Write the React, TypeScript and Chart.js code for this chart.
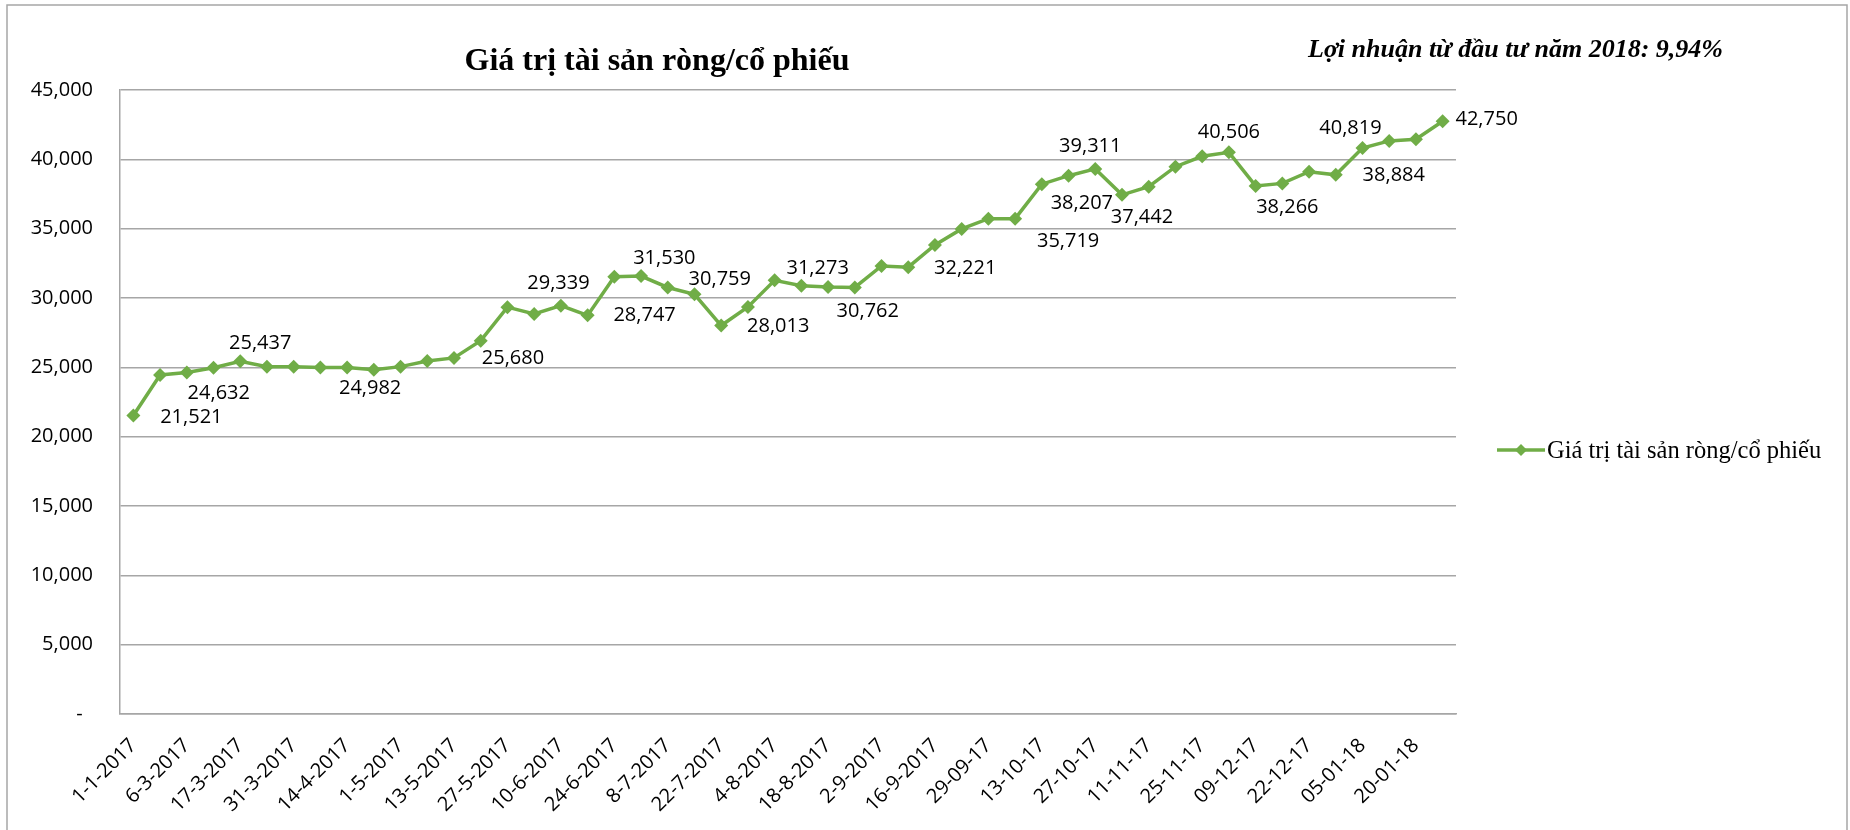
import React, { useEffect, useRef } from "react";
import { Chart, registerables } from "chart.js";

Chart.register(...registerables);

const chartTitle = "Giá trị tài sản ròng/cổ phiếu";
const subTitle = "Lợi nhuận từ đầu tư năm 2018: 9,94%";
const seriesName = "Giá trị tài sản ròng/cổ phiếu";

// visible date labels (every second period)
const tickLabels = [
  "1-1-2017", "6-3-2017", "17-3-2017", "31-3-2017", "14-4-2017", "1-5-2017",
  "13-5-2017", "27-5-2017", "10-6-2017", "24-6-2017", "8-7-2017", "22-7-2017",
  "4-8-2017", "18-8-2017", "2-9-2017", "16-9-2017", "29-09-17", "13-10-17",
  "27-10-17", "11-11-17", "25-11-17", "09-12-17", "22-12-17", "05-01-18", "20-01-18",
];

const navValues = [
  21521, 24450, 24632, 24970, 25437, 25050, 25050, 24980, 24982, 24830,
  25050, 25450, 25680, 26920, 29339, 28850, 29450, 28747, 31530, 31580,
  30759, 30270, 28013, 29350, 31273, 30890, 30800, 30762, 32310, 32221,
  33830, 34980, 35720, 35719, 38207, 38820, 39311, 37442, 38030, 39470,
  40220, 40506, 38080, 38266, 39110, 38884, 40819, 41330, 41450, 42750,
];

// indices of points that carry a data label
const labeledPoints = [0, 2, 4, 8, 12, 14, 17, 18, 20, 22, 24, 27, 29, 33, 34, 36, 37, 41, 43, 45, 46, 49];

const yTicks = [0, 5000, 10000, 15000, 20000, 25000, 30000, 35000, 40000, 45000];

// label placement offsets (style only), keyed by point index
const labelOffsets: Record<number, [number, number]> = {
  0: [58, 2], 2: [32, 21], 4: [20, -18], 8: [23, 21], 12: [59, 0], 14: [51, -24],
  17: [57, 0], 18: [50, -18], 20: [52, -8], 22: [57, 1], 24: [43, -12], 27: [13, 24],
  29: [57, 1], 33: [53, 23], 34: [40, 19], 36: [-5, -23], 37: [20, 22], 41: [0, -20],
  43: [5, 24], 45: [58, 0], 46: [-12, -20], 49: [44, -2],
};

const GREEN = "#70AD47";
const SANS = "'Open Sans', 'Noto Sans', sans-serif";
const SERIF = "'Liberation Serif', 'Times New Roman', serif";

const categories = navValues.map((_, i) => (i % 2 === 0 ? tickLabels[i / 2] ?? "" : ""));

const fmt = (v: number) => v.toLocaleString("en-US");

const decorPlugin = {
  id: "decor",
  afterDraw(chart: any) {
    const ctx = chart.ctx;
    ctx.save();
    // outer border
    ctx.strokeStyle = "#a6a6a6";
    ctx.lineWidth = 1.5;
    ctx.strokeRect(7, 5, 1840, 840);

    // title
    ctx.fillStyle = "#000";
    ctx.font = `bold 32px ${SERIF}`;
    ctx.textAlign = "center";
    ctx.textBaseline = "alphabetic";
    ctx.fillText(chartTitle, 657, 70);

    // subtitle
    ctx.font = `italic bold 26px ${SERIF}`;
    ctx.textAlign = "left";
    ctx.fillText(subTitle, 1308, 57);

    // legend
    const ly = 450;
    ctx.strokeStyle = GREEN;
    ctx.lineWidth = 3.5;
    ctx.beginPath();
    ctx.moveTo(1497, ly);
    ctx.lineTo(1545, ly);
    ctx.stroke();
    ctx.fillStyle = GREEN;
    ctx.beginPath();
    ctx.moveTo(1521, ly - 6);
    ctx.lineTo(1527, ly);
    ctx.lineTo(1521, ly + 6);
    ctx.lineTo(1515, ly);
    ctx.closePath();
    ctx.fill();
    ctx.fillStyle = "#000";
    ctx.font = `24.5px ${SERIF}`;
    ctx.textAlign = "left";
    ctx.fillText(seriesName, 1547, 458);

    // data labels
    const meta = chart.getDatasetMeta(0);
    ctx.font = `20px ${SANS}`;
    ctx.textAlign = "center";
    ctx.textBaseline = "middle";
    ctx.fillStyle = "#000";
    labeledPoints.forEach((i) => {
      const el = meta.data[i];
      if (!el) return;
      const [dx, dy] = labelOffsets[i] || [0, -20];
      ctx.fillText(fmt(navValues[i]), el.x + dx, el.y + dy);
    });
    ctx.restore();
  },
};

export default function App() {
  const ref = useRef<HTMLCanvasElement | null>(null);
  useEffect(() => {
    if (!ref.current) return;
    const chart = new Chart(ref.current, {
      type: "line",
      data: {
        labels: categories,
        datasets: [
          {
            label: seriesName,
            data: navValues,
            borderColor: GREEN,
            backgroundColor: GREEN,
            borderWidth: 3.5,
            pointStyle: "rectRot",
            pointRadius: 7,
            pointBorderWidth: 0,
            pointBackgroundColor: GREEN,
            tension: 0,
          },
        ],
      },
      options: {
        responsive: false,
        animation: false,
        layout: { padding: { left: 0, right: 394, top: 90, bottom: 0 } },
        plugins: {
          legend: { display: false },
          title: { display: false },
          tooltip: { enabled: false },
        },
        scales: {
          x: {
            type: "category",
            offset: true,
            grid: { display: false, drawTicks: false },
            border: { display: true, color: "#a6a6a6", width: 1.5 },
            ticks: {
              autoSkip: false,
              minRotation: 45,
              maxRotation: 45,
              padding: 20,
              color: "#000",
              font: { family: SANS, size: 20 },
            },
            afterFit(scale: any) {
              scale.height = 116;
            },
          },
          y: {
            min: 0,
            max: 45000,
            afterBuildTicks(scale: any) {
              scale.ticks = yTicks.map((v) => ({ value: v }));
            },
            grid: { color: "#a6a6a6", lineWidth: 1.5, drawTicks: false },
            border: { display: true, color: "#a6a6a6", width: 1.5 },
            ticks: {
              padding: 27,
              color: "#000",
              font: { family: SANS, size: 20 },
              callback: (v: any) => (Number(v) === 0 ? "-  " : fmt(Number(v))),
            },
            afterFit(scale: any) {
              scale.width = 120;
            },
          },
        },
      },
      plugins: [decorPlugin],
    });
    return () => chart.destroy();
  }, []);
  return (
    <div style={{ position: "fixed", left: 0, top: 0, width: 1850, height: 830, background: "#fff" }}>
      <canvas ref={ref} width={1850} height={830} style={{ display: "block" }} />
    </div>
  );
}
